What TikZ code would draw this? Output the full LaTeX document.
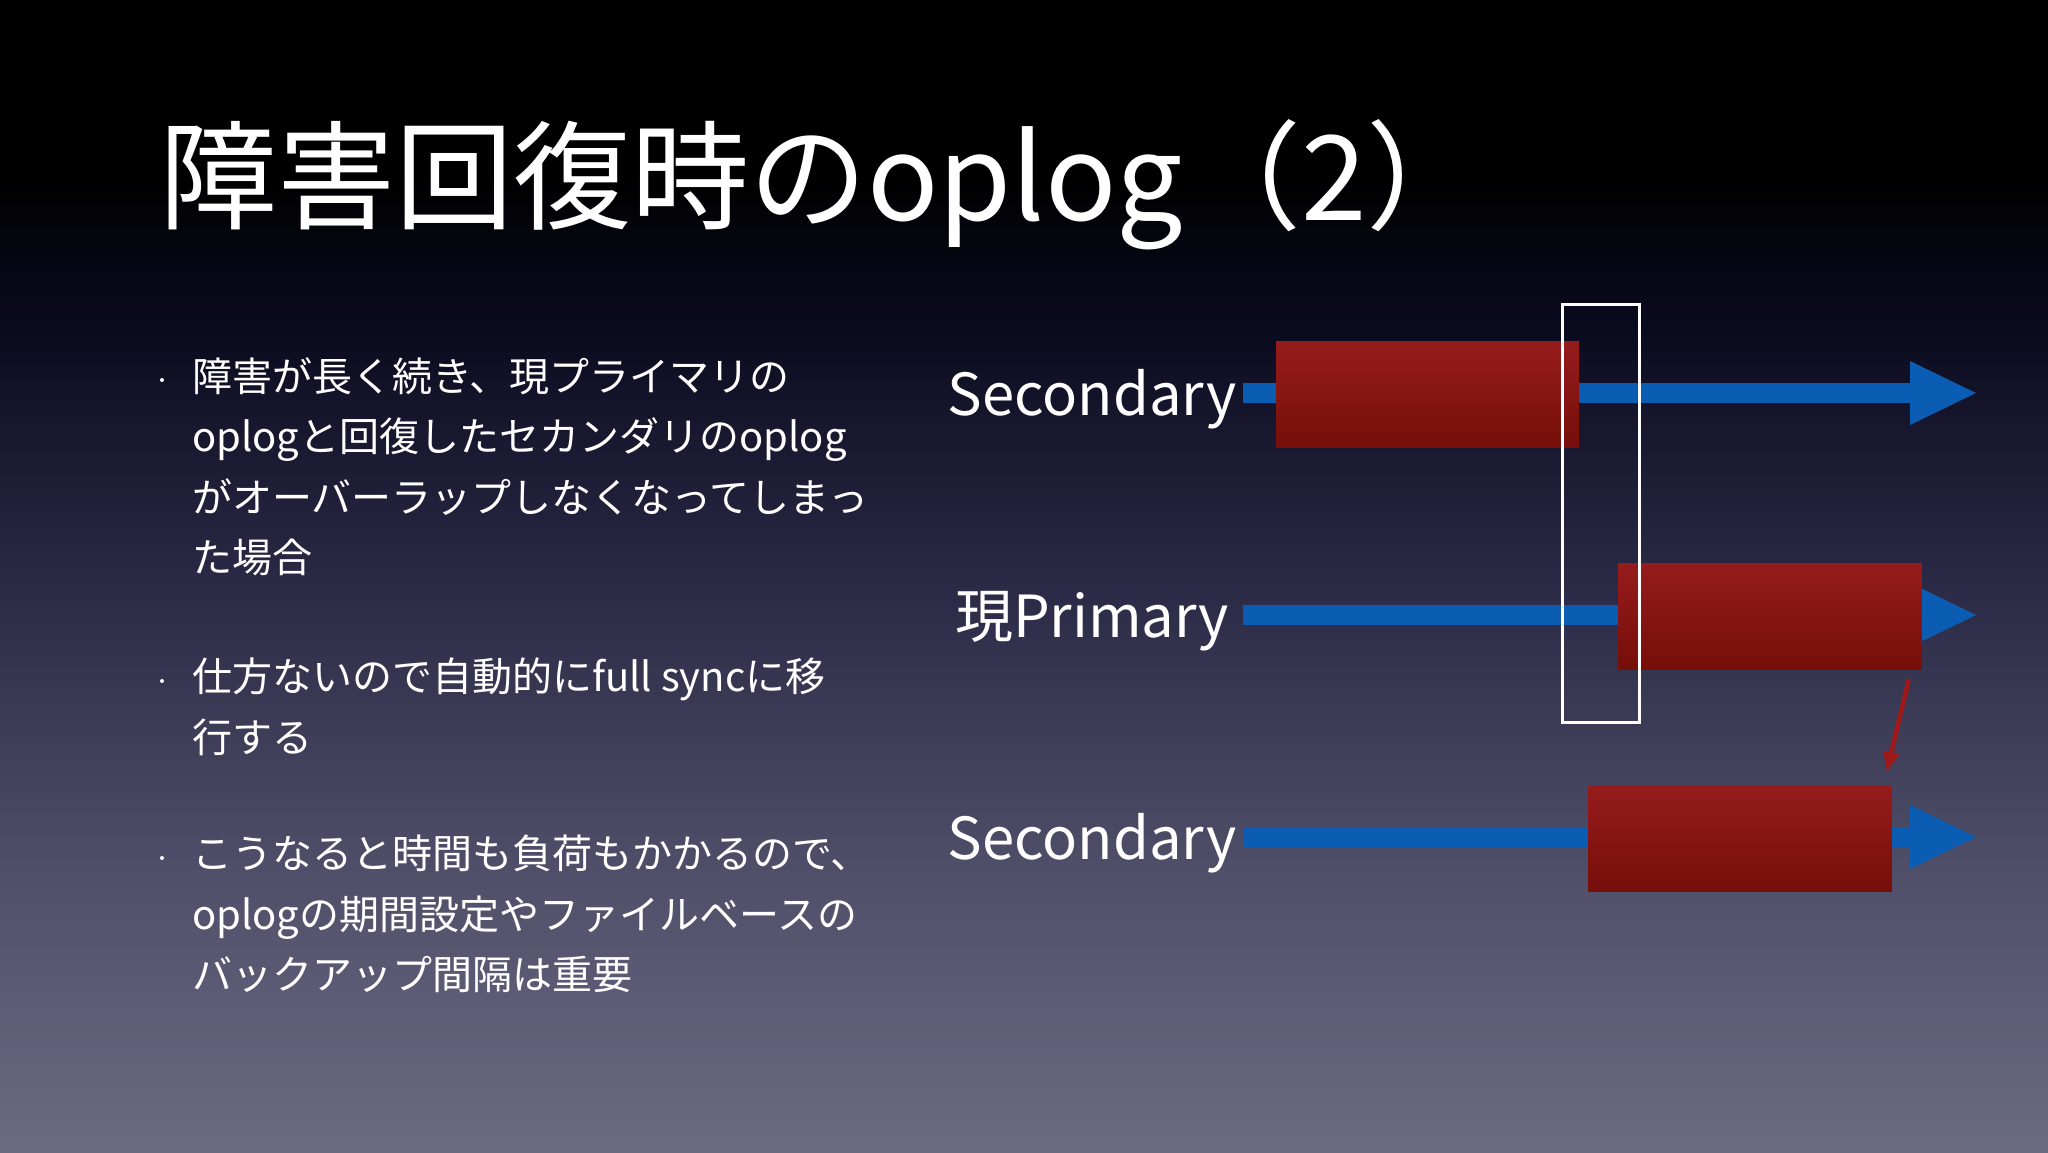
\documentclass[tikz,border=0pt]{standalone}
\usepackage{fontspec}
\setmainfont{Noto Sans CJK JP}
\usetikzlibrary{arrows.meta,calc}
\definecolor{logblue}{RGB}{11,93,179}
\definecolor{logred}{RGB}{160,24,24}
\definecolor{logredtop}{RGB}{150,28,28}
\definecolor{logredbot}{RGB}{118,14,10}
\definecolor{bgA}{RGB}{0,0,0}
\definecolor{bgB}{RGB}{10,10,30}
\definecolor{bgC}{RGB}{42,41,69}
\definecolor{bgD}{RGB}{79,78,104}
\definecolor{bgE}{RGB}{108,106,131}
\pgfdeclareverticalshading{slidebg}{100bp}{color(0bp)=(bgE); color(25bp)=(bgE); color(37.5bp)=(bgD); color(50bp)=(bgC); color(61bp)=(bgB); color(67.5bp)=(bgA); color(100bp)=(bgA)}

\begin{document}
\begin{tikzpicture}[
  x=1pt, y=-1pt,
  title/.style={anchor=base west, inner sep=0pt, text=white, font=\fontsize{118}{140}\selectfont},
  bullet/.style={anchor=north west, inner sep=0pt, align=left, text=white, font=\fontsize{40}{60.5}\selectfont},
  dot/.style={circle, fill=white, inner sep=0pt, minimum size=4pt},
  role/.style={anchor=base, inner sep=0pt, text=white, font=\fontsize{58}{70}\selectfont},
  logline/.style={line width=20pt, draw=logblue, -{Triangle[length=66pt, width=64pt, line width=0pt]}},
  oplog/.style={rectangle, draw=none, inner sep=0pt, minimum width=303pt, minimum height=106pt, top color=logredtop, bottom color=logredbot},
  window/.style={rectangle, draw=white, line width=3pt, inner sep=0pt, minimum width=77pt, minimum height=418pt},
  catchup/.style={-{Triangle[length=20pt, width=15pt]}, line width=4.5pt, draw=logred}
]

% Background
\shade[shading=slidebg] (0,0) rectangle (2048,1152);

% Title
\node[title] (heading) at (159,220) {障害回復時のoplog（2）};

% Bullets
\node[dot] (d1) at (162,380) {};
\node[bullet] (b1) at (192,357) {障害が長く続き、現プライマリの\\oplogと回復したセカンダリのoplog\\がオーバーラップしなくなってしまっ\\た場合};
\node[dot] (d2) at (162,681) {};
\node[bullet] (b2) at (192,658) {仕方ないので自動的にfull syncに移\\行する};
\node[dot] (d3) at (162,858) {};
\node[bullet] (b3) at (192,835) {こうなると時間も負荷もかかるので、\\oplogの期間設定やファイルベースの\\バックアップ間隔は重要};

% Members
\node[role] (sec1) at (1092,415) {Secondary};
\node[role] (prim) at (1092,637) {現Primary};
\node[role] (sec2) at (1092,859) {Secondary};

% Timelines
\coordinate (s1from) at (1243,393);
\coordinate (s1to) at (1976,393);
\coordinate (pfrom) at (1243,615);
\coordinate (pto) at (1976,615);
\coordinate (s2from) at (1243,837);
\coordinate (s2to) at (1976,837);
\draw[logline] (s1from) -- (s1to);
\draw[logline] (pfrom) -- (pto);
\draw[logline] (s2from) -- (s2to);

% oplog ranges
\node[oplog] (box1) at (1427.5,394) {};
\node[oplog] (box2) at (1770,616) {};
\node[oplog] (box3) at (1740,838) {};

% No overlap
\node[window] (win) at (1600.5,513) {};
\draw[catchup] ($(box2.south east)+(-13,10)$) -- ($(box3.north east)+(-5,-13)$);

\end{tikzpicture}
\end{document}
